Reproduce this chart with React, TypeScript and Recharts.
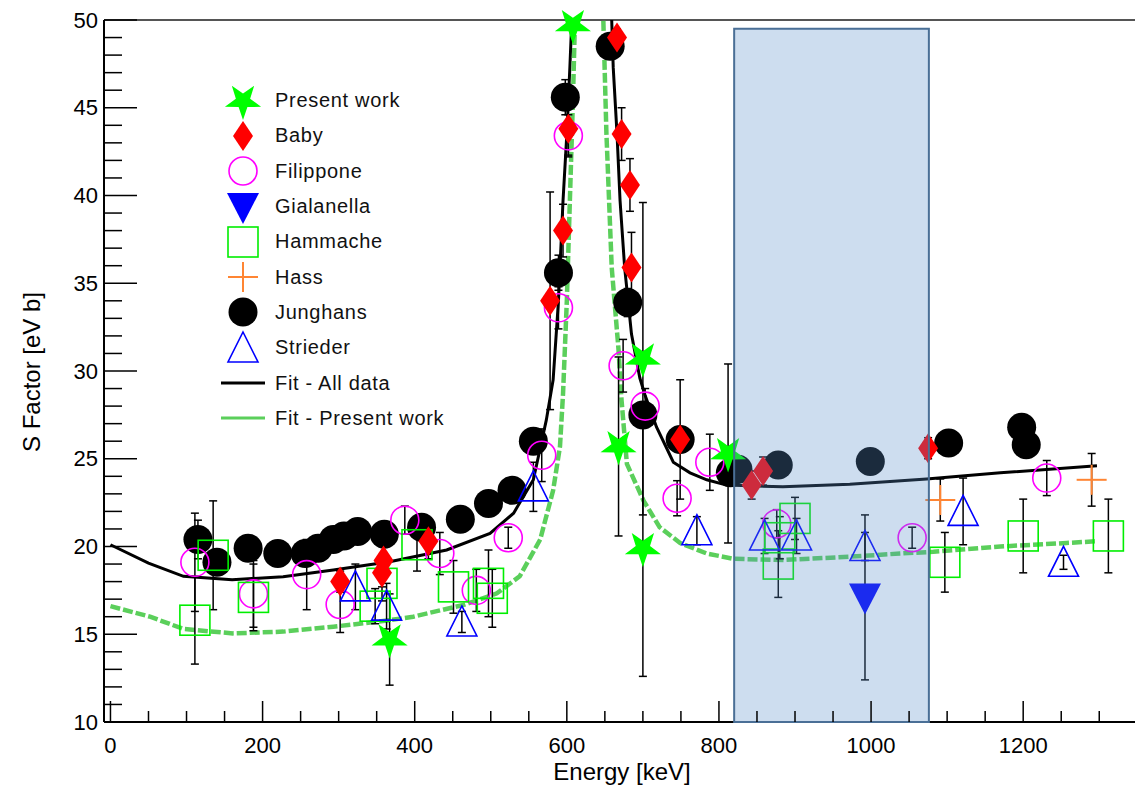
import {
  ComposedChart,
  ErrorBar,
  Legend,
  Line,
  ReferenceArea,
  ReferenceLine,
  Scatter,
  XAxis,
  YAxis,
} from "recharts";

// [energy keV, S factor eV b, error]
const presentWork = [
  [367, 14.7, 2.6],
  [608, 49.7, 0],
  [668, 25.7, 5.1],
  [700, 30.7, 8.9],
  [700, 19.9, 7.3],
  [812, 25.3, 5.1],
];
const baby = [
  [302, 18.0, 0.6], [357, 18.5, 0.8], [359, 19.2, 0.8], [418, 20.3, 1.0],
  [578, 34.0, 6.2], [595, 38.0, 1.5], [602, 43.8, 1.5], [666, 49.0, 0.5],
  [672, 43.5, 1.5], [683, 40.6, 1.5], [685, 35.9, 2.0], [749, 26.1, 3.4],
  [843, 23.5, 0.8], [858, 24.3, 0.8], [1075, 25.6, 0.6],
];
const filippone = [
  [111, 19.1, 2.8], [188, 17.3, 1.9], [258, 18.4, 2.0], [302, 16.7, 1.6],
  [387, 21.5, 0.8], [433, 19.6, 1.2], [481, 17.5, 1.2], [523, 20.5, 0.6],
  [567, 25.2, 1.5], [589, 33.6, 1.2], [602, 43.4, 1.2], [674, 30.3, 1.5],
  [703, 28.0, 1.0], [745, 22.75, 1.0], [788, 24.8, 1.6], [876, 21.3, 0.8],
  [1054, 20.5, 0.6], [1231, 23.9, 1.0],
];
const gialanella = [[992, 17.1, 4.7]];
const hammache = [
  [111, 15.8, 2.5], [135, 19.5, 3.1], [188, 17.1, 1.9], [348, 16.6, 1.0],
  [357, 17.9, 1.0], [403, 20.1, 1.5], [451, 17.7, 1.5], [497, 17.9, 1.9],
  [502, 17.05, 1.65], [878, 19.0, 1.9], [880, 20.5, 1.2], [900, 21.6, 1.2],
  [1097, 19.1, 1.7], [1200, 20.6, 2.1], [1312, 20.6, 2.1],
];
const hass = [[1091, 22.65, 1.2], [1290, 23.8, 1.5]];
const junghans = [
  [115, 20.4, 1.1], [140, 19.1, 0.5], [181, 19.9, 0.5], [220, 19.6, 0.4],
  [256, 19.6, 0.4], [273, 19.9, 0.4], [293, 20.4, 0.4], [307, 20.6, 0.4],
  [325, 20.85, 0.4], [360, 20.7, 0.4], [409, 21.1, 0.5], [460, 21.55, 0.4],
  [497, 22.45, 0.4], [528, 23.2, 0.4], [556, 26.0, 0.5], [589, 35.6, 1.0],
  [598, 45.6, 1.0], [657, 48.5, 0.4], [680, 33.9, 0.8], [700, 27.5, 0.6],
  [749, 26.1, 0.5], [815, 24.2, 0.4], [825, 24.4, 0.4], [878, 24.65, 0.4],
  [999, 24.85, 0.4], [1102, 25.9, 0.4], [1198, 26.8, 0.4], [1204, 25.8, 0.4],
];
const strieder = [
  [322, 17.7, 1.3], [363, 16.6, 1.3], [462, 15.7, 0.6], [556, 23.4, 1.4],
  [771, 20.9, 0.8], [860, 20.6, 1.0], [902, 20.6, 1.0], [992, 20.0, 0.8],
  [1121, 22.0, 1.9], [1253, 19.1, 0.4],
];

// fit curves (values past the top are clipped)
const fitAllE = [0, 50, 96, 160, 227, 293, 367, 442, 499, 530, 556, 573, 582, 589, 595, 600, 604, 607, 615, 632, 650, 659, 661, 666, 670, 676, 685, 696, 703, 718, 740, 762, 784, 810, 884, 972, 1073, 1170, 1297];
const fitAllS = [20.1, 19.05, 18.3, 18.1, 18.28, 18.66, 19.13, 19.8, 20.75, 21.9, 23.8, 27.2, 29.5, 34.0, 39.7, 43.5, 47.3, 50.5, 65, 110, 65, 50, 47.3, 43.5, 39.7, 35.9, 32.1, 29.6, 28.6, 26.8, 24.8, 24.2, 23.8, 23.5, 23.4, 23.55, 23.85, 24.2, 24.6];
const fitPresE = [0, 52, 96, 161, 227, 293, 367, 398, 464, 508, 538, 565, 582, 591, 595, 600, 604, 608, 611, 618, 630, 642, 648, 652, 659, 668, 672, 679, 701, 722, 749, 784, 819, 885, 972, 1038, 1082, 1170, 1257, 1297];
const fitPresS = [16.6, 16.0, 15.3, 15.05, 15.15, 15.43, 15.8, 16.0, 16.67, 17.33, 18.3, 20.4, 23.2, 25.7, 28.7, 34.0, 39.7, 45.4, 50.5, 65, 120, 65, 50, 43.6, 35.9, 31.2, 28.3, 24.7, 22.6, 21.1, 20.2, 19.6, 19.3, 19.23, 19.42, 19.6, 19.7, 20.0, 20.2, 20.3];

const band = [820, 1076, 49.5];

const xTicks = [0, 50, 100, 150, 200, 250, 300, 350, 400, 450, 500, 550, 600, 650, 700, 750, 800, 850, 900, 950, 1000, 1050, 1100, 1150, 1200, 1250, 1300];
const xMajor = [0, 200, 400, 600, 800, 1000, 1200];
const yTicks = [10, 11, 12, 13, 14, 15, 16, 17, 18, 19, 20, 21, 22, 23, 24, 25, 26, 27, 28, 29, 30, 31, 32, 33, 34, 35, 36, 37, 38, 39, 40, 41, 42, 43, 44, 45, 46, 47, 48, 49, 50];
const yMajor = [10, 15, 20, 25, 30, 35, 40, 45, 50];

const legendNames = ["Present work", "Baby", "Filippone", "Gialanella", "Hammache", "Hass", "Junghans", "Strieder", "Fit - All data", "Fit - Present work"];
const legendKinds = ["star", "diamond", "ocircle", "tridown", "square", "cross", "circle", "triup", "lineBlack", "lineGreen"];

const pts = (rows: number[][]) => rows.map(([x, y, e]) => ({ x, y, e }));
const curve = (xs: number[], ys: number[]) => xs.map((x, i) => ({ x, y: ys[i] }));

const FONT = "'Liberation Sans', Arial, Helvetica, sans-serif";
const GREEN_FIT = "#5bcf5b";
const PLOT_LEFT = 104;

function Marker({ kind, cx, cy }: { kind: string; cx: number; cy: number }) {
  switch (kind) {
    case "star": {
      const p: string[] = [];
      for (let i = 0; i < 10; i++) {
        const r = i % 2 === 0 ? 19 : 7.5;
        const a = Math.PI / 2 + (i * Math.PI) / 5;
        p.push(`${cx + r * Math.cos(a)},${cy + r * Math.sin(a)}`);
      }
      return <polygon points={p.join(" ")} fill="#00ff00" />;
    }
    case "diamond":
      return <polygon points={`${cx},${cy - 15} ${cx + 10},${cy} ${cx},${cy + 15} ${cx - 10},${cy}`} fill="#ff0000" />;
    case "ocircle":
      return <circle cx={cx} cy={cy} r={14} fill="none" stroke="#ff00ff" strokeWidth={1.6} />;
    case "tridown":
      return <polygon points={`${cx - 16},${cy - 14} ${cx + 16},${cy - 14} ${cx},${cy + 17}`} fill="#0000ff" />;
    case "square":
      return <rect x={cx - 15} y={cy - 15} width={30} height={30} fill="none" stroke="#00ee00" strokeWidth={1.6} />;
    case "cross":
      return (
        <g stroke="#ff8533" strokeWidth={2}>
          <line x1={cx - 15} y1={cy} x2={cx + 15} y2={cy} />
          <line x1={cx} y1={cy - 15} x2={cx} y2={cy + 15} />
        </g>
      );
    case "circle":
      return <circle cx={cx} cy={cy} r={14.5} fill="#000" />;
    case "triup":
      return <polygon points={`${cx},${cy - 16} ${cx + 15},${cy + 14} ${cx - 15},${cy + 14}`} fill="none" stroke="#0000ff" strokeWidth={1.6} />;
    case "lineBlack":
      return <line x1={cx - 22} y1={cy} x2={cx + 22} y2={cy} stroke="#000" strokeWidth={3} />;
    case "lineGreen":
      return <line x1={cx - 22} y1={cy} x2={cx + 22} y2={cy} stroke={GREEN_FIT} strokeWidth={3} />;
  }
  return null;
}

const shapeOf = (kind: string) => (p: any) => <Marker kind={kind} cx={p.cx} cy={p.cy} />;

function XTick({ x, y, payload }: any) {
  const major = xMajor.includes(payload.value);
  return (
    <g>
      <line x1={x} y1={y} x2={x} y2={y - (major ? 21 : 11)} stroke="#000" strokeWidth={1.5} />
      {major && (
        <text x={x} y={y + 31} textAnchor="middle" fontSize={22} fontFamily={FONT} fill="#000">
          {payload.value}
        </text>
      )}
    </g>
  );
}

// ROOT style: ticks point into the frame from the left axis
function YTick({ y, payload }: any) {
  const major = yMajor.includes(payload.value);
  const x = PLOT_LEFT;
  return (
    <g>
      <line x1={x} y1={y} x2={x + (major ? 33 : 18)} y2={y} stroke="#000" strokeWidth={1.5} />
      {major && (
        <text x={x - 6} y={y} dy="0.35em" textAnchor="end" fontSize={22} fontFamily={FONT} fill="#000">
          {payload.value}
        </text>
      )}
    </g>
  );
}

function LegendBox() {
  return (
    <div style={{ fontFamily: FONT, fontSize: 20, letterSpacing: 0.7, color: "#111" }}>
      {legendNames.map((name, i) => (
        <div key={name} style={{ display: "flex", alignItems: "center", height: 35.3 }}>
          <svg width={60} height={36} style={{ overflow: "visible" }}>
            <Marker kind={legendKinds[i]} cx={28} cy={18} />
          </svg>
          <span>{name}</span>
        </div>
      ))}
    </div>
  );
}

const errBar = <ErrorBar dataKey="e" direction="y" width={4} stroke="#000" strokeWidth={1.5} />;

export default function App() {
  return (
    <div style={{ position: "absolute", left: 0, top: 0, fontFamily: FONT }}>
      <ComposedChart width={1135} height={788} margin={{ top: 20, right: 0, bottom: 0, left: 0 }}>
        <XAxis
          dataKey="x"
          type="number"
          domain={[-8.5, 1347]}
          ticks={xTicks}
          interval={0}
          height={66}
          tickSize={0}
          tickMargin={0}
          tickLine={false}
          axisLine={{ stroke: "#000", strokeWidth: 2 }}
          tick={<XTick />}
          label={{
            content: () => (
              <text x={622} y={780} textAnchor="middle" fontSize={24} fontFamily={FONT} fill="#000">
                Energy [keV]
              </text>
            ),
          }}
        />
        <YAxis
          yAxisId="main"
          type="number"
          domain={[10, 50]}
          ticks={yTicks}
          interval={0}
          width={PLOT_LEFT}
          tickSize={0}
          tickMargin={0}
          tickLine={false}
          axisLine={{ stroke: "#000", strokeWidth: 2 }}
          tick={<YTick />}
          label={{
            content: () => (
              <text x={32} y={372} transform="rotate(-90 32 372)" dy="0.35em" textAnchor="middle" fontSize={24} fontFamily={FONT} fill="#000">
                S Factor [eV b]
              </text>
            ),
          }}
        />
        <YAxis yAxisId="fit" orientation="right" width={0} type="number" domain={[10, 50]} allowDataOverflow hide />
        <ReferenceLine yAxisId="main" y={50} stroke="#555" strokeWidth={2} />

        <Line yAxisId="fit" data={curve(fitAllE, fitAllS)} dataKey="y" type="linear" stroke="#000" strokeWidth={3} dot={false} isAnimationActive={false} />
        <Line yAxisId="fit" data={curve(fitPresE, fitPresS)} dataKey="y" type="linear" stroke={GREEN_FIT} strokeWidth={4.5} strokeDasharray="10 3" dot={false} isAnimationActive={false} />

        <Scatter yAxisId="main" data={pts(junghans)} dataKey="y" shape={shapeOf("circle")} isAnimationActive={false}>{errBar}</Scatter>
        <Scatter yAxisId="main" data={pts(filippone)} dataKey="y" shape={shapeOf("ocircle")} isAnimationActive={false}>{errBar}</Scatter>
        <Scatter yAxisId="main" data={pts(hammache)} dataKey="y" shape={shapeOf("square")} isAnimationActive={false}>{errBar}</Scatter>
        <Scatter yAxisId="main" data={pts(strieder)} dataKey="y" shape={shapeOf("triup")} isAnimationActive={false}>{errBar}</Scatter>
        <Scatter yAxisId="main" data={pts(hass)} dataKey="y" shape={shapeOf("cross")} isAnimationActive={false}>{errBar}</Scatter>
        <Scatter yAxisId="main" data={pts(gialanella)} dataKey="y" shape={shapeOf("tridown")} isAnimationActive={false}>{errBar}</Scatter>
        <Scatter yAxisId="main" data={pts(baby)} dataKey="y" shape={shapeOf("diamond")} isAnimationActive={false}>{errBar}</Scatter>
        <Scatter yAxisId="main" data={pts(presentWork)} dataKey="y" shape={shapeOf("star")} isAnimationActive={false}>{errBar}</Scatter>

        <ReferenceArea
          yAxisId="main"
          x1={band[0]}
          x2={band[1]}
          y1={10}
          y2={band[2]}
          fill="#5b8dc9"
          fillOpacity={0.3}
          stroke="#4a6f96"
          strokeWidth={2}
          strokeOpacity={1}
          zIndex={700}
        />
        <Legend
          layout="vertical"
          align="center"
          verticalAlign="middle"
          wrapperStyle={{ left: 215, top: 83, width: 300, height: 360 }}
          content={() => <LegendBox />}
        />
      </ComposedChart>
    </div>
  );
}
